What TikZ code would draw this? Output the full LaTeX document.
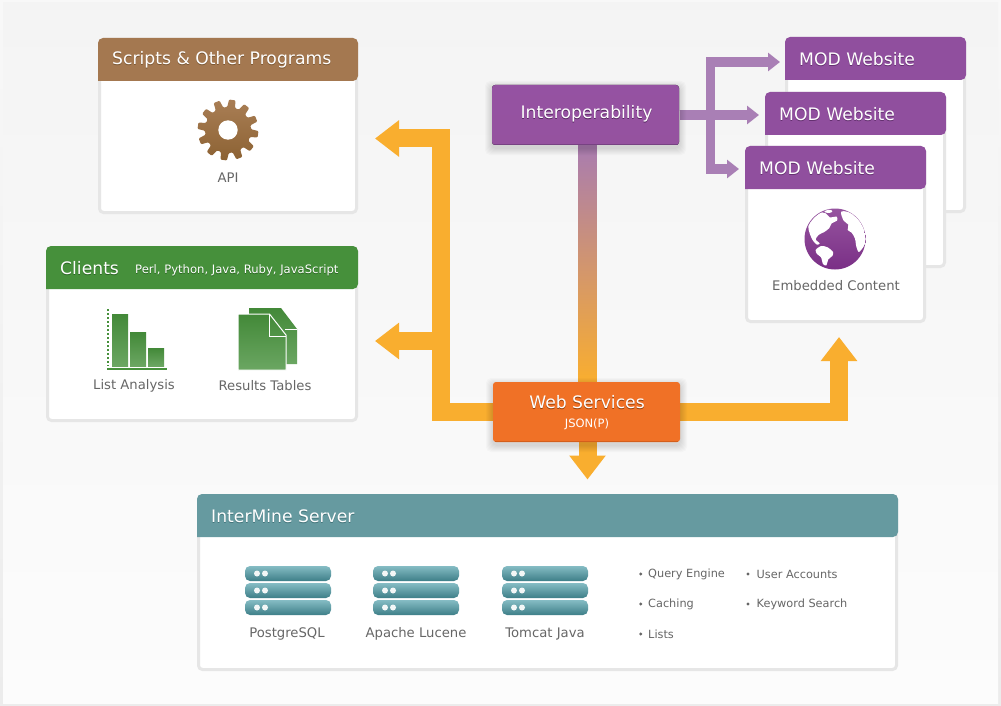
\documentclass[tikz,border=0pt]{standalone}
\usepackage{fontspec}
\setmainfont{DejaVu Sans}
\usetikzlibrary{arrows.meta,calc}
\definecolor{cbrown}{HTML}{A47850}
\definecolor{cgreen}{HTML}{46903B}
\definecolor{cpurple}{HTML}{904F9E}
\definecolor{cteal}{HTML}{669AA0}
\definecolor{cborder}{HTML}{E6E6E6}
\definecolor{clabel}{HTML}{666666}
\definecolor{carrow}{HTML}{F9AE2F}
\definecolor{cparrow}{HTML}{A97FB5}
\newcommand\shtxt[2]{\leavevmode\rlap{\raisebox{-0.9pt}{\textcolor{#1}{#2}}}#2}
\tikzset{
  x=1pt,y=-1pt,
  oarrow/.style={draw=carrow,line width=18pt,line join=miter,-{Triangle[width=35pt,length=24pt]}},
  parrow/.style={draw=cparrow,line width=9.5pt,line join=miter,-{Triangle[width=18pt,length=12pt]}},
  cardbody/.style={draw=cborder,fill=white,line width=3pt,rounded corners=4pt,inner sep=0pt,outer sep=0pt},
  headtxt/.style={text=white,font=\fontsize{17.2}{20}\selectfont,anchor=west,inner sep=0pt},
  lab/.style={text=clabel,font=\fontsize{13.2}{16}\selectfont,inner sep=0pt},
  bul/.style={text=clabel,font=\fontsize{11.3}{14}\selectfont,anchor=west,inner sep=0pt},
  dot/.style={circle,fill=clabel,inner sep=0pt,minimum size=3.2pt},
  gfill/.style={top color=cgreen!95!black,bottom color=cgreen!80!white},
  rack/.style={rounded corners=5pt,top color=85BCC4,bottom color=3E7F88},
  led/.style={fill=white!92!cteal},
  85BCC4/.code={},
}
\definecolor{85BCC4}{HTML}{85BCC4}
\definecolor{3E7F88}{HTML}{3E7F88}
% card: name, x1,y1,x2,y2, header bottom, colour
\newcommand\cardbox[7]{%
  \pgfmathsetmacro\cw{#4-#2-3}\pgfmathsetmacro\ch{#5-#3-3}%
  \pgfmathsetmacro\cx{(#2+#4)/2}\pgfmathsetmacro\cy{(#3+#5)/2}%
  \node[cardbody,minimum width=\cw pt,minimum height=\ch pt] (#1) at (\cx,\cy) {};
  \fill[#7,rounded corners=5pt] (#2,#6) -- (#2,#3) -- (#4,#3) -- (#4,#6) [sharp corners] -- cycle;
}
\newcommand\softshadow[5]{% x1 y1 x2 y2 dy
  \foreach \s in {1,...,7}{
    \fill[black,opacity=.018,rounded corners=5pt] (#1-\s,#2+#5-\s) rectangle (#3+\s,#4+#5+\s);
  }
}
\newcommand\rackicon[2]{% x, name
  \foreach \yy/\n in {566/a,583/b,600/c}{
    \shade[rack] (#1,\yy) rectangle (#1+86,\yy+15);
    \fill[led] (#1+12,\yy+7.5) circle (3pt);
    \fill[led] (#1+20,\yy+7.5) circle (3pt);
  }
}
\begin{document}
\begin{tikzpicture}
\useasboundingbox (0,0) rectangle (1001,706);
% page background
\definecolor{bga}{HTML}{F8F8F8}\definecolor{bgb}{HTML}{ECECEC}
\definecolor{bgc}{HTML}{F4F4F4}\definecolor{bgd}{HTML}{FCFCFC}
\shade[top color=bga,bottom color=bgb] (0,0) rectangle (1001,706);
\shade[top color=bgc,bottom color=bgd] (3,3) rectangle (998,703);

% free ends
\coordinate (tipA) at (375,138.5);
\coordinate (tipB) at (375,341);
\coordinate (tipC) at (839,337);
\coordinate (tipD) at (587.5,479.5);
\coordinate (tipE) at (780,62);
\coordinate (tipF) at (759,115);
\coordinate (tipG) at (739,169);
\coordinate (trunkO) at (440.5,412);
\coordinate (trunkP) at (710.5,115);

% the two boxes fix the connector ends
\path (586,115) node[minimum width=187pt,minimum height=60pt,inner sep=0pt,outer sep=0pt] (interop) {};
\path (586.5,412) node[minimum width=187pt,minimum height=60pt,inner sep=0pt,outer sep=0pt] (web) {};

% connectors
\draw[oarrow] (web.west) -- (trunkO) |- (tipA);
\draw[oarrow] (web.west) -- (trunkO) |- (tipB);
\draw[oarrow] (web.east) -| (tipC);
\draw[oarrow] (web.south -| tipD) -- (tipD);
\definecolor{cmixa}{HTML}{A97CB0}
\shade[top color=cmixa,bottom color=carrow] ($(interop.south -| tipD)+(-9,0)$) rectangle ($(web.north -| tipD)+(9,0)$);
\draw[parrow] (interop.east) -- (trunkP) |- (tipE);
\draw[parrow] (interop.east) -- (tipF);
\draw[parrow] (interop.east) -- (trunkP) |- (tipG);

% interoperability box
\softshadow{492}{85}{679}{145}{3}
\definecolor{ipa}{HTML}{9552A2}\definecolor{ipb}{HTML}{A05DAC}\definecolor{ipc}{HTML}{95529F}
\fill[top color=ipa,middle color=ipb,bottom color=ipc,rounded corners=3pt] (492,85) rectangle (679,145);
\draw[draw=ipa!80!black,line width=1pt] (493.5,144.5) -- (677.5,144.5);
\definecolor{ipshad}{HTML}{54265F}
\node[text=white,font=\fontsize{17.2}{20}\selectfont,inner sep=0pt] (interoptxt) at (586.5,114) {\shtxt{ipshad}{Interoperability}};

% web services box
\softshadow{493}{382}{680}{442}{3}
\definecolor{wsa}{HTML}{F07126}\definecolor{wsd}{HTML}{D45F1C}
\fill[wsa,rounded corners=3pt] (493,382) rectangle (680,442);
\draw[draw=wsd,line width=1pt] (495,441.5) -- (678,441.5);
\definecolor{wsshad}{HTML}{8F3F0C}
\node[text=white,font=\fontsize{17.2}{20}\selectfont,inner sep=0pt] (webtxt) at (587,403) {\shtxt{wsshad}{Web Services}};
\node[text=white,font=\fontsize{11.5}{14}\selectfont,inner sep=0pt] (jsontxt) at (587,424) {JSON(P)};

% scripts card
\cardbox{scripts}{98}{38}{358}{214}{81}{cbrown}
\definecolor{brshad}{HTML}{7A5734}
\node[headtxt] (scriptstxt) at (112,60) {\shtxt{brshad}{Scripts \& Other Programs}};
\definecolor{gra}{HTML}{A97E55}\definecolor{grb}{HTML}{8C6233}
\shade[top color=gra,bottom color=grb,rounded corners=1pt] (228,130)
  ++(-2:23) \foreach \a in {8,38,...,338}{ -- ($(228,130)+(\a-10:23)$) -- ($(228,130)+(\a-6:30.5)$) -- ($(228,130)+(\a+6:30.5)$) -- ($(228,130)+(\a+10:23)$) } -- cycle;
\fill[white] (228,130) circle (9.7pt);
\node[lab] (apitxt) at (228,178) {API};

% clients card
\cardbox{clients}{46}{246}{358}{422}{289}{cgreen}
\definecolor{grshad}{HTML}{2B6524}
\node[headtxt] (clientstxt) at (60,269) {\shtxt{grshad}{Clients}};
\node[text=white,anchor=west,inner sep=0pt,font=\fontsize{11.6}{14}\selectfont] (langtxt) at (135,271) {\shtxt{grshad}{Perl, Python, Java, Ruby, JavaScript}};
% bar chart
\draw[cgreen,line width=2pt,dash pattern=on 2pt off 2pt] (108,309) -- (108,366);
\draw[cgreen,line width=2pt] (107,368.5) -- (167,368.5);
\shade[gfill] (112,314) rectangle (128,366);
\shade[gfill] (130,332) rectangle (146,366);
\shade[gfill] (148,348) rectangle (164,366);
\node[lab] (listtxt) at (134,386) {List Analysis};
% documents
\shade[gfill] (249,308) -- (281,308) -- (297,329) -- (297,364) -- (249,364) -- cycle;
\draw[white,line width=.9pt] (285,329.5) -- (297,329.5);
\shade[gfill,draw=white,line width=1pt] (238,314) -- (269.5,314) -- (286,335) -- (286,370) -- (238,370) -- cycle;
\fill[white] (237,370) rectangle (237.6,370);
\draw[white,line width=.9pt] (269.5,314) -- (269.5,336) -- (286,336);
\node[lab] (tabtxt) at (265,386) {Results Tables};

% MOD cards
\cardbox{moda}{785}{37}{966}{213}{80}{cpurple}
\definecolor{mdshad}{HTML}{643070}
\node[headtxt] (modatxt) at (799,60) {\shtxt{mdshad}{MOD Website}};
\cardbox{modb}{765}{92}{946}{268}{135}{cpurple}
\node[headtxt] (modbtxt) at (779,115) {\shtxt{mdshad}{MOD Website}};
\cardbox{modc}{745}{146}{926}{323}{189}{cpurple}
\node[headtxt] (modctxt) at (759,169) {\shtxt{mdshad}{MOD Website}};
% globe
\definecolor{gla}{HTML}{96549F}\definecolor{glb}{HTML}{7A2F86}
\shade[top color=gla,bottom color=glb] (835,239) circle (30.5pt);
\begin{scope}[shift={(795,200)},x=.3333pt,y=-.3333pt]
  \clip (121,117) circle (90);
  \fill[white] plot[smooth cycle,tension=.5] coordinates {(72,38) (92,40) (104,52) (125,50) (126,62) (110,70) (103,84) (88,96) (72,104) (62,118) (74,130) (66,134) (54,122) (44,100) (40,78) (52,56)};
  \fill[white] plot[smooth cycle,tension=.5] coordinates {(62,150) (78,138) (98,142) (114,156) (112,168) (100,178) (94,196) (84,192) (78,172) (66,162)};
  \fill[white] plot[smooth cycle,tension=.5] coordinates {(138,36) (160,36) (190,56) (206,84) (212,118) (208,136) (192,156) (184,140) (180,116) (170,98) (158,90) (160,74) (146,62)};
  \fill[white] (100,34) ellipse (12 and 5);
\end{scope}
\node[lab] (embedtxt) at (836,286) {Embedded Content};

% server card
\cardbox{server}{197}{494}{898}{671}{537}{cteal}
\definecolor{tlshad}{HTML}{43747A}
\node[headtxt] (servertxt) at (211,517) {\shtxt{tlshad}{InterMine Server}};
\rackicon{245}{pg}
\rackicon{373}{lu}
\rackicon{502}{tc}
\node[lab] (pgtxt) at (287,634) {PostgreSQL};
\node[lab] (lutxt) at (416,634) {Apache Lucene};
\node[lab] (tctxt) at (545,634) {Tomcat Java};

% bullets
\node[dot] (d1) at (640.7,574) {}; \node[bul] (t1) at (648,574) {Query Engine};
\node[dot] (d2) at (640.7,604) {}; \node[bul] (t2) at (648,604) {Caching};
\node[dot] (d3) at (640.7,634) {}; \node[bul] (t3) at (648,634) {Lists};
\node[dot] (d4) at (748,574) {}; \node[bul] (t4) at (756.5,574) {User Accounts};
\node[dot] (d5) at (748,604) {}; \node[bul] (t5) at (756.5,604) {Keyword Search};
\end{tikzpicture}
\end{document}
